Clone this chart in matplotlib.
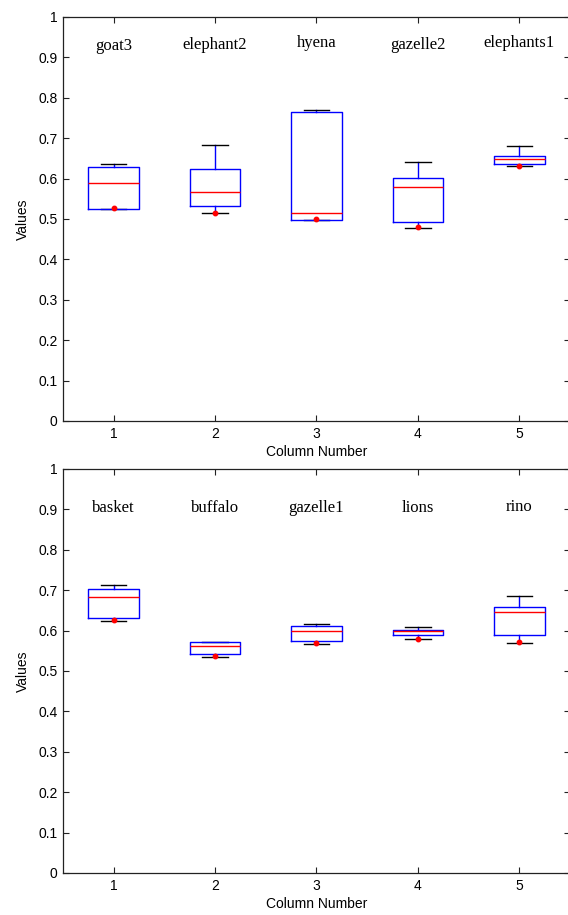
import matplotlib
matplotlib.use("Agg")
import matplotlib.pyplot as plt

# ---- data (top panel) ----
top_names = ["goat3", "elephant2", "hyena", "gazelle2", "elephants1"]
top_whislo = [0.525, 0.514, 0.498, 0.478, 0.631]
top_q1 = [0.525, 0.531, 0.498, 0.493, 0.635]
top_med = [0.589, 0.568, 0.514, 0.578, 0.648]
top_q3 = [0.628, 0.625, 0.766, 0.601, 0.657]
top_whishi = [0.636, 0.683, 0.771, 0.642, 0.680]
top_dots = [0.526, 0.515, 0.500, 0.480, 0.632]
top_label_y = [0.927, 0.930, 0.935, 0.931, 0.936]

# ---- data (bottom panel) ----
bot_names = ["basket", "buffalo", "gazelle1", "lions", "rino"]
bot_whislo = [0.624, 0.535, 0.567, 0.578, 0.570]
bot_q1 = [0.630, 0.543, 0.575, 0.589, 0.590]
bot_med = [0.682, 0.561, 0.599, 0.599, 0.647]
bot_q3 = [0.702, 0.573, 0.612, 0.602, 0.659]
bot_whishi = [0.712, 0.573, 0.617, 0.609, 0.685]
bot_dots = [0.626, 0.537, 0.569, 0.580, 0.572]
bot_label_y = [0.903, 0.903, 0.903, 0.903, 0.906]

yticks = [0, 0.1, 0.2, 0.3, 0.4, 0.5, 0.6, 0.7, 0.8, 0.9, 1]
yticklabels = ["0", "0.1", "0.2", "0.3", "0.4", "0.5", "0.6", "0.7", "0.8", "0.9", "1"]
xticks = [1, 2, 3, 4, 5]

W, H = 568, 915
fig = plt.figure(figsize=(W / 100, H / 100), dpi=100)

sans = ["Liberation Sans", "DejaVu Sans"]
serif = ["Liberation Serif", "DejaVu Serif"]


def panel(rect, names, wlo, q1, med, q3, whi, dots, label_y):
    ax = fig.add_axes(rect)
    stats = []
    for i in range(len(names)):
        stats.append(dict(whislo=wlo[i], q1=q1[i], med=med[i], q3=q3[i],
                          whishi=whi[i], fliers=[], label=str(i + 1)))
    ax.bxp(stats, positions=xticks, widths=0.5, showfliers=False,
           boxprops=dict(color="#0000ff", linewidth=1.0, zorder=3),
           medianprops=dict(color="#ff0000", linewidth=1.0, zorder=4),
           whiskerprops=dict(color="#0000ff", linewidth=1.0, linestyle="-", zorder=2),
           capprops=dict(color="black", linewidth=1.0, zorder=2),
           capwidths=0.25)
    ax.plot(xticks, dots, linestyle="none", marker="o", markersize=3.2,
            color="#ff0000", zorder=5)
    for x, n, ly in zip(xticks, names, label_y):
        ax.text(x, ly, n, ha="center", va="center", fontsize=12,
                family=serif, color="black")
    ax.set_xlim(0.5, 5.5)
    ax.set_ylim(0, 1)
    ax.set_xticks(xticks)
    ax.set_xticklabels([str(v) for v in xticks], family=sans, fontsize=10)
    ax.set_yticks(yticks)
    ax.set_yticklabels(yticklabels, family=sans, fontsize=10)
    ax.tick_params(direction="in", length=4, width=0.8, top=True, right=True,
                   colors="#222222", labelcolor="black", pad=4)
    for s in ax.spines.values():
        s.set_color("#222222")
        s.set_linewidth(0.9)
    ax.set_xlabel("Column Number", family=sans, fontsize=10, labelpad=3)
    ax.set_ylabel("Values", family=sans, fontsize=10, labelpad=6)
    return ax


left = 63 / W
width = (570 - 63) / W
h = 404 / H
panel([left, 1 - 421 / H, width, h], top_names, top_whislo, top_q1, top_med,
      top_q3, top_whishi, top_dots, top_label_y)
panel([left, 1 - 873 / H, width, h], bot_names, bot_whislo, bot_q1, bot_med,
      bot_q3, bot_whishi, bot_dots, bot_label_y)

fig.savefig("out.png", dpi=100)
